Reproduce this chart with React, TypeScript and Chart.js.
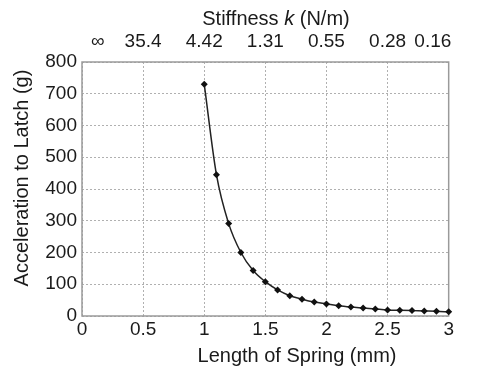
import React, { useEffect, useRef } from "react";
import { Chart, registerables } from "chart.js";

Chart.register(...registerables);

// ---- data ----
const springLengths = [1.0, 1.1, 1.2, 1.3, 1.4, 1.5, 1.6, 1.7, 1.8, 1.9, 2.0, 2.1, 2.2, 2.3, 2.4, 2.5, 2.6, 2.7, 2.8, 2.9, 3.0];
const accelerations = [730, 445, 291, 200, 143, 108, 82, 64, 53, 44, 38, 32, 28, 25, 22, 19, 18, 17, 16, 15, 13];
const bottomTickLabels = ["0", "0.5", "1", "1.5", "2", "2.5", "3"];
const topTickLabels = ["∞", "35.4", "4.42", "1.31", "0.55", "0.28", "0.16"];
const xTitle = "Length of Spring (mm)";
const yTitle = "Acceleration to Latch (g)";
const topTitleParts: [string, boolean][] = [["Stiffness ", false], ["k", true], [" (N/m)", false]];

const FONT = "'Liberation Sans', Arial, Helvetica, sans-serif";

const titlesPlugin = {
  id: "titles",
  beforeDatasetsDraw(chart: any) {
    const { ctx, chartArea } = chart;
    ctx.save();
    ctx.strokeStyle = "#9a9a9a";
    ctx.lineWidth = 1.5;
    ctx.strokeRect(chartArea.left, chartArea.top, chartArea.right - chartArea.left, chartArea.bottom - chartArea.top);
    ctx.restore();
  },
  afterDraw(chart: any) {
    const { ctx } = chart;
    ctx.save();
    ctx.fillStyle = "#1a1a1a";
    ctx.textBaseline = "middle";
    // bottom title
    ctx.font = `20px ${FONT}`;
    ctx.textAlign = "center";
    ctx.fillText(xTitle, 297, 356);
    // left title
    ctx.save();
    ctx.translate(22, 178);
    ctx.rotate(-Math.PI / 2);
    ctx.fillText(yTitle, 0, 0);
    ctx.restore();
    // top title with italic k
    ctx.textAlign = "left";
    const fonts = topTitleParts.map(([, it]) => `${it ? "italic " : ""}20px ${FONT}`);
    let total = 0;
    topTitleParts.forEach(([t], i) => {
      ctx.font = fonts[i];
      total += ctx.measureText(t).width;
    });
    let x = 276 - total / 2;
    topTitleParts.forEach(([t], i) => {
      ctx.font = fonts[i];
      ctx.fillText(t, x, 19);
      x += ctx.measureText(t).width;
    });
    ctx.restore();
  },
};

export default function App() {
  const ref = useRef<HTMLCanvasElement>(null);

  useEffect(() => {
    if (!ref.current) return;
    const pts = springLengths.map((x, i) => ({ x, y: accelerations[i] }));
    const gridCommon = { color: "#b0b0b0", lineWidth: 1, drawTicks: false };
    const tickFont = { family: FONT, size: 19 };
    const chart = new Chart(ref.current, {
      type: "line",
      data: {
        datasets: [
          {
            data: pts,
            xAxisID: "x",
            yAxisID: "y",
            borderColor: "#222",
            borderWidth: 1.5,
            pointStyle: "rectRot",
            pointRadius: 3.5,
            pointBackgroundColor: "#111",
            pointBorderColor: "#111",
            pointBorderWidth: 0,
            tension: 0.4,
            cubicInterpolationMode: "monotone",
            clip: false as any,
          },
        ],
      },
      options: {
        animation: false,
        responsive: false,
        events: [],
        layout: { padding: { left: 0, right: 12, top: 0, bottom: 0 } },
        plugins: { legend: { display: false }, tooltip: { enabled: false } },
        scales: {
          x: {
            type: "linear",
            position: "bottom",
            min: 0,
            max: 3,
            ticks: {
              stepSize: 0.5,
              font: tickFont,
              color: "#1a1a1a",
              padding: 2,
              maxRotation: 0,
              autoSkip: false,
              callback: (_v: any, i: number) => bottomTickLabels[i],
            },
            grid: gridCommon,
            border: { display: false, dash: [2, 2] },
            afterFit: (s: any) => { s.height = 55; },
          },
          x2: {
            type: "linear",
            position: "top",
            min: 0,
            max: 3,
            ticks: {
              stepSize: 0.5,
              font: tickFont,
              color: "#1a1a1a",
              padding: 9,
              maxRotation: 0,
              autoSkip: false,
              callback: (_v: any, i: number) => {
                const l = topTickLabels[i];
                if (i === 0) return "      " + l;
                if (i === topTickLabels.length - 1) return l + "      ";
                return l;
              },
            },
            grid: { display: false, drawTicks: false },
            border: { display: false },
            afterFit: (s: any) => { s.height = 62; },
          },
          y: {
            type: "linear",
            min: 0,
            max: 800,
            ticks: { stepSize: 100, font: tickFont, color: "#1a1a1a", padding: 5 },
            grid: gridCommon,
            border: { display: false, dash: [2, 2] },
            afterFit: (s: any) => { s.width = 82; },
          },
        },
      } as any,
      plugins: [titlesPlugin],
    });
    return () => chart.destroy();
  }, []);

  return (
    <div style={{ position: "absolute", left: 0, top: 0, width: 492, height: 371, background: "#fff" }}>
      <canvas ref={ref} width={492} height={371} style={{ display: "block" }} />
    </div>
  );
}
